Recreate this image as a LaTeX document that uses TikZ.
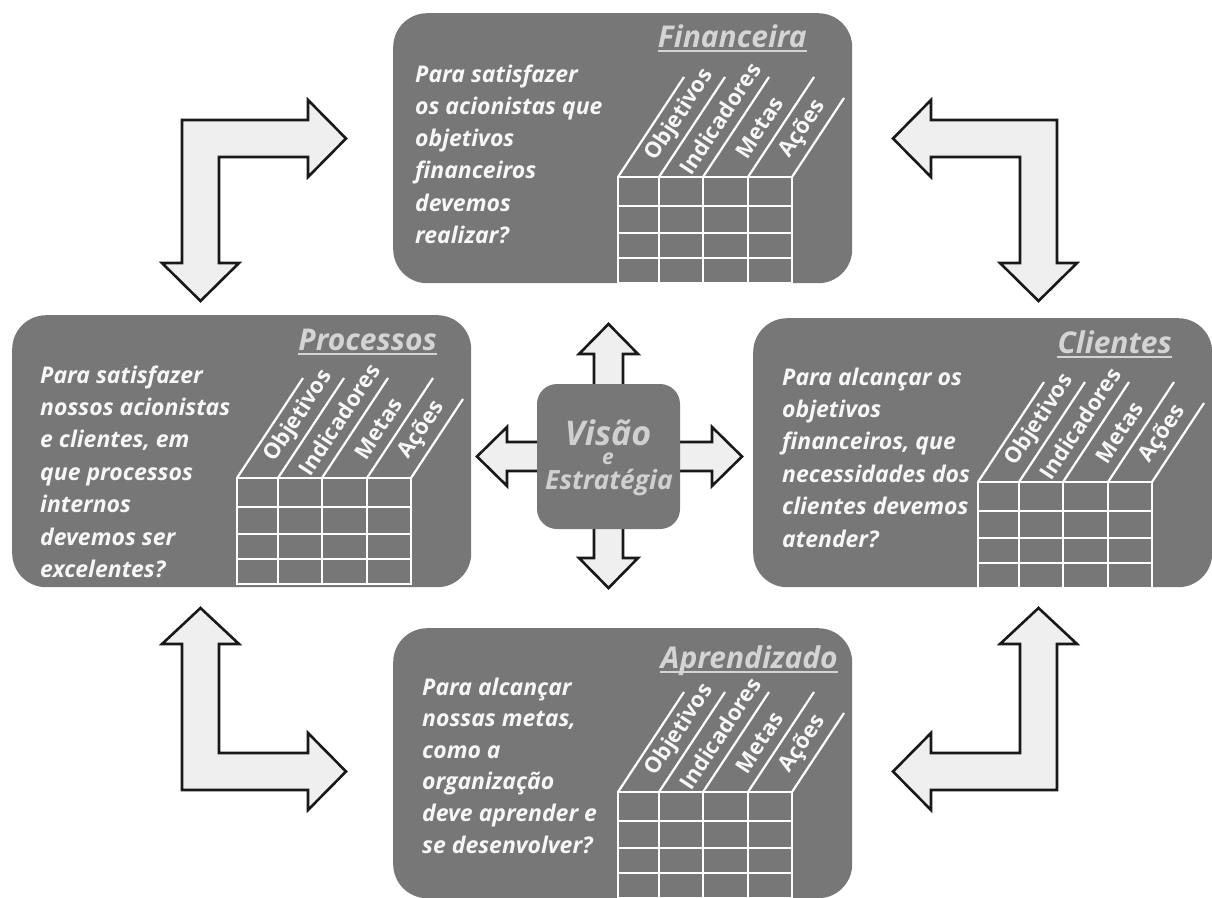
\documentclass[tikz,border=0pt]{standalone}
\usepackage{fontspec}
\setmainfont{Open Sans}
\usetikzlibrary{calc}
\definecolor{boxgray}{HTML}{777777}
\definecolor{titlegray}{HTML}{D4D4D4}
\definecolor{arrowfill}{HTML}{EFEFEF}
\definecolor{txtwhite}{HTML}{F7F7F7}
\tikzset{
  panel/.style={fill=boxgray, draw=none, rounded corners=34pt, anchor=north west, inner sep=0pt,
    minimum width=459pt, minimum height=270pt},
  blockarrow/.style={fill=arrowfill, draw=black!90, line width=2.6pt, line join=miter},
  bodytext/.style={anchor=base west, text=txtwhite, inner sep=0pt,
    font=\fontsize{23}{26}\selectfont\bfseries\itshape},
  titletext/.style={anchor=base east, text=titlegray, inner sep=0pt,
    font=\fontsize{30}{34}\selectfont\bfseries\itshape},
  titleline/.style={draw=titlegray, line width=1.8pt},
  gridline/.style={draw=white, line width=2.2pt},
  collabel/.style={anchor=west, rotate=56.6, text=txtwhite, inner sep=0pt,
    font=\fontsize{22}{24}\selectfont\bfseries},
  vistext/.style={anchor=base, text=titlegray!110, inner sep=0pt},
}
\newcommand{\bsctable}[3]{%
  \begin{scope}[shift={(#1,#2)}]
    \foreach \c in {0,41,85,130,174} \draw[gridline] (\c,0) -- (\c,106);
    \foreach \r in {0,29,56,81,106} \draw[gridline] (-1,\r) -- (175,\r);
    \foreach \c in {0,41,85,130} \draw[gridline] (\c,0) -- ++(66,-100);
    \draw[gridline] (174,0) -- ++(52,-79);
    \node[collabel] (#3-c1) at (33.0,-18) {Objetivos};
    \node[collabel] (#3-c2) at (66.6,-5) {Indicadores};
    \node[collabel] (#3-c3) at (122.6,-21) {Metas};
    \node[collabel] (#3-c4) at (167.1,-21) {Ações};
  \end{scope}}
\begin{document}
\begin{tikzpicture}[x=1pt, y=-1pt]
\useasboundingbox (0,0) rectangle (1212,897);

% L-shaped block arrows
\draw[blockarrow] (200.5,301) -- (239,263) -- (219,263) -- (219,157) -- (308,157) -- (308,177)
  -- (346,138.5) -- (308,100) -- (308,120) -- (182,120) -- (182,263) -- (162,263) -- cycle;
\draw[blockarrow] (1038.5,301) -- (1000,263) -- (1020,263) -- (1020,157) -- (931,157) -- (931,177)
  -- (893,138.5) -- (931,100) -- (931,120) -- (1057,120) -- (1057,263) -- (1077,263) -- cycle;
\draw[blockarrow] (200.5,608) -- (239,644) -- (219,644) -- (219,753) -- (308,753) -- (308,733)
  -- (346,771.5) -- (308,810) -- (308,790) -- (182,790) -- (182,644) -- (162,644) -- cycle;
\draw[blockarrow] (1038.5,608) -- (1000,644) -- (1020,644) -- (1020,753) -- (931,753) -- (931,733)
  -- (893,771.5) -- (931,810) -- (931,790) -- (1057,790) -- (1057,644) -- (1077,644) -- cycle;

% small arrows around the centre
\draw[blockarrow] (594,395) -- (594,354) -- (579,354) -- (608.5,324) -- (638,354) -- (623,354) -- (623,395) -- cycle;
\draw[blockarrow] (594,518) -- (594,558) -- (579,558) -- (608.5,588) -- (638,558) -- (623,558) -- (623,518) -- cycle;
\draw[blockarrow] (669,442) -- (712,442) -- (712,427) -- (742,456.5) -- (712,486) -- (712,471) -- (669,471) -- cycle;
\draw[blockarrow] (548,442) -- (507,442) -- (507,427) -- (477,456.5) -- (507,486) -- (507,471) -- (548,471) -- cycle;

% panels
\node[panel] (fin) at (393,13) {};
\node[panel, minimum height=272pt] (proc) at (12,315) {};
\node[panel, minimum height=269pt] (cli) at (753,318) {};
\node[panel] (apr) at (393,628) {};
\node[fill=boxgray, rounded corners=20pt, minimum width=143pt, minimum height=145pt, inner sep=0pt] (vis) at (608.5,456.5) {};

% centre text
\node[vistext, font=\fontsize{34}{38}\selectfont\bfseries\itshape] (vis-t1) at (608,445) {Visão};
\node[vistext, font=\fontsize{21}{24}\selectfont\bfseries\itshape] (vis-t2) at (608,464) {e};
\node[vistext, font=\fontsize{26.5}{30}\selectfont\bfseries\itshape] (vis-t3) at (609,489) {Estratégia};

% titles
\node[titletext] (fin-t) at (807,47) {Financeira};
\draw[titleline] ([yshift=-4pt]fin-t.base west) -- ([yshift=-4pt]fin-t.base east);
\node[titletext] (proc-t) at (437,350) {Processos};
\draw[titleline] ([yshift=-4pt]proc-t.base west) -- ([yshift=-4pt]proc-t.base east);
\node[titletext] (cli-t) at (1172,353) {Clientes};
\draw[titleline] ([yshift=-4pt]cli-t.base west) -- ([yshift=-4pt]cli-t.base east);
\node[titletext] (apr-t) at (838,668) {Aprendizado};
\draw[titleline] ([yshift=-4pt]apr-t.base west) -- ([yshift=-4pt]apr-t.base east);

% questions
\foreach \t [count=\i] in {Para satisfazer, os acionistas que, objetivos, financeiros, devemos, realizar?}
  \node[bodytext] (fin-q\i) at (415,{82+32.3*(\i-1)}) {\t};
\foreach \t [count=\i] in {Para satisfazer, nossos acionistas, {e clientes, em}, que processos, internos, devemos ser, excelentes?}
  \node[bodytext] (proc-q\i) at (40,{383+32.4*(\i-1)}) {\t};
\foreach \t [count=\i] in {Para alcançar os, objetivos, {financeiros, que}, necessidades dos, clientes devemos, atender?}
  \node[bodytext] (cli-q\i) at (782,{385+32.4*(\i-1)}) {\t};
\foreach \t [count=\i] in {Para alcançar, {nossas metas,}, como a, organização, deve aprender e, se desenvolver?}
  \node[bodytext] (apr-q\i) at (422,{695+31.6*(\i-1)}) {\t};

% tables
\bsctable{618}{177}{fin}
\bsctable{237}{478}{proc}
\bsctable{978}{482}{cli}
\bsctable{618}{792}{apr}
\end{tikzpicture}
\end{document}
